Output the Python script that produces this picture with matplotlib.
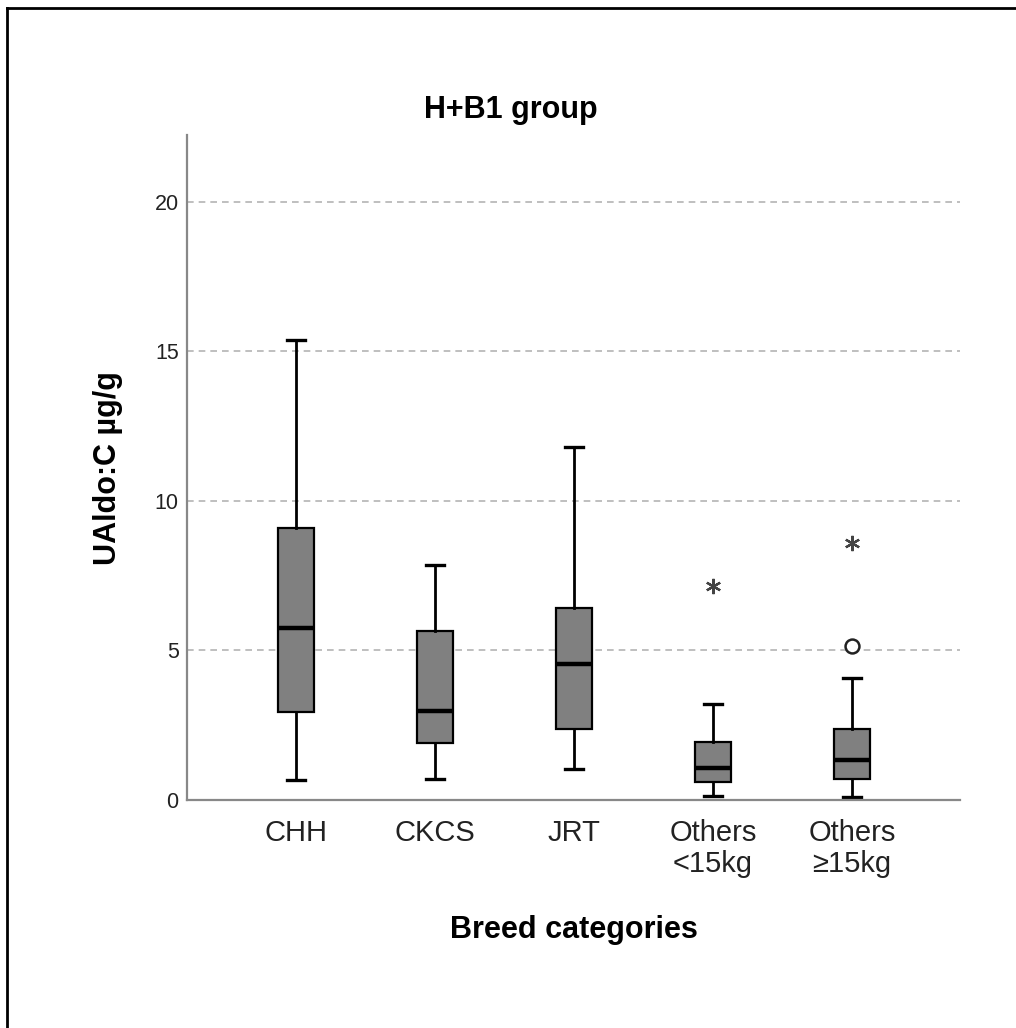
import matplotlib
matplotlib.use("Agg")
import matplotlib.pyplot as plt
from matplotlib.lines import Line2D

plt.rcParams['font.family'] = ['Liberation Sans', 'DejaVu Sans']

# values (UAldo:C, ug/g)
categories = ['CHH', 'CKCS', 'JRT', 'Others\n<15kg', 'Others\n\u226515kg']
whis_lo = [0.67, 0.71, 1.05, 0.13, 0.09]
q1 = [2.95, 1.92, 2.36, 0.61, 0.69]
medians = [5.75, 2.99, 4.55, 1.06, 1.34]
q3 = [9.11, 5.65, 6.43, 1.95, 2.37]
whis_hi = [15.38, 7.87, 11.79, 3.22, 4.09]
# outliers (circle) and extremes (star) per category
outliers = [[], [], [], [], [5.15]]
extremes = [[], [], [], [7.16], [8.58]]

stats = []
for i, name in enumerate(categories):
    stats.append(dict(label=name, med=medians[i], q1=q1[i], q3=q3[i],
                      whislo=whis_lo[i], whishi=whis_hi[i], fliers=[]))

fig = plt.figure(figsize=(10.16, 10.28), dpi=100)
ax = fig.add_axes([187 / 1016, 1 - 800 / 1028, (960 - 187) / 1016, (800 - 135) / 1028])

pos = list(range(1, len(categories) + 1))
ax.bxp(stats, positions=pos, widths=0.265, patch_artist=True, showfliers=False,
       boxprops=dict(facecolor='#808080', edgecolor='black', linewidth=1.6),
       medianprops=dict(color='black', linewidth=3.2),
       whiskerprops=dict(color='black', linewidth=2),
       capprops=dict(color='black', linewidth=2.4),
       capwidths=0.13)

for p, vals in zip(pos, outliers):
    if vals:
        ax.plot([p] * len(vals), vals, linestyle='none', marker='o', markersize=10,
                markerfacecolor='white', markeredgecolor='#222222', markeredgewidth=1.8)
for p, vals in zip(pos, extremes):
    if vals:
        ax.plot([p] * len(vals), vals, linestyle='none', marker=(6, 2, 0), markersize=11,
                markeredgecolor='#444444', markeredgewidth=1.6)

ax.set_xlim(0.216, 5.777)
ax.set_ylim(0, 22.24)
ax.set_yticks([0, 5, 10, 15, 20])
ax.set_xticks(pos)
ax.set_xticklabels(categories, fontsize=21, color='#222222', linespacing=1.1)
ax.tick_params(axis='y', length=0, pad=6, labelsize=15.5, labelcolor='#222222')
ax.tick_params(axis='x', length=0, pad=14)

ax.yaxis.grid(True, linestyle=(0, (4, 3)), color='#b4b4b4', linewidth=1.2)
ax.set_axisbelow(True)
for s in ['top', 'right']:
    ax.spines[s].set_visible(False)
for s in ['left', 'bottom']:
    ax.spines[s].set_color('#888888')
    ax.spines[s].set_linewidth(1.6)

fig.text(511 / 1016, 1 - 110 / 1028, 'H+B1 group', ha='center', va='center',
         fontsize=22, fontweight='bold')
fig.text(0.5645, 1 - 930 / 1028, 'Breed categories', ha='center', va='center',
         fontsize=22, fontweight='bold')
fig.text(108 / 1016, 1 - 468 / 1028, 'UAldo:C \u00b5g/g', ha='center', va='center',
         rotation=90, fontsize=22, fontweight='bold')

# outer frame (only top and left edges are in the picture)
fig.add_artist(Line2D([7 / 1016, 7 / 1016], [0, 1 - 8 / 1028], color='black', linewidth=2))
fig.add_artist(Line2D([7 / 1016, 1], [1 - 8 / 1028, 1 - 8 / 1028], color='black', linewidth=2))

fig.savefig('out.png', dpi=100)
